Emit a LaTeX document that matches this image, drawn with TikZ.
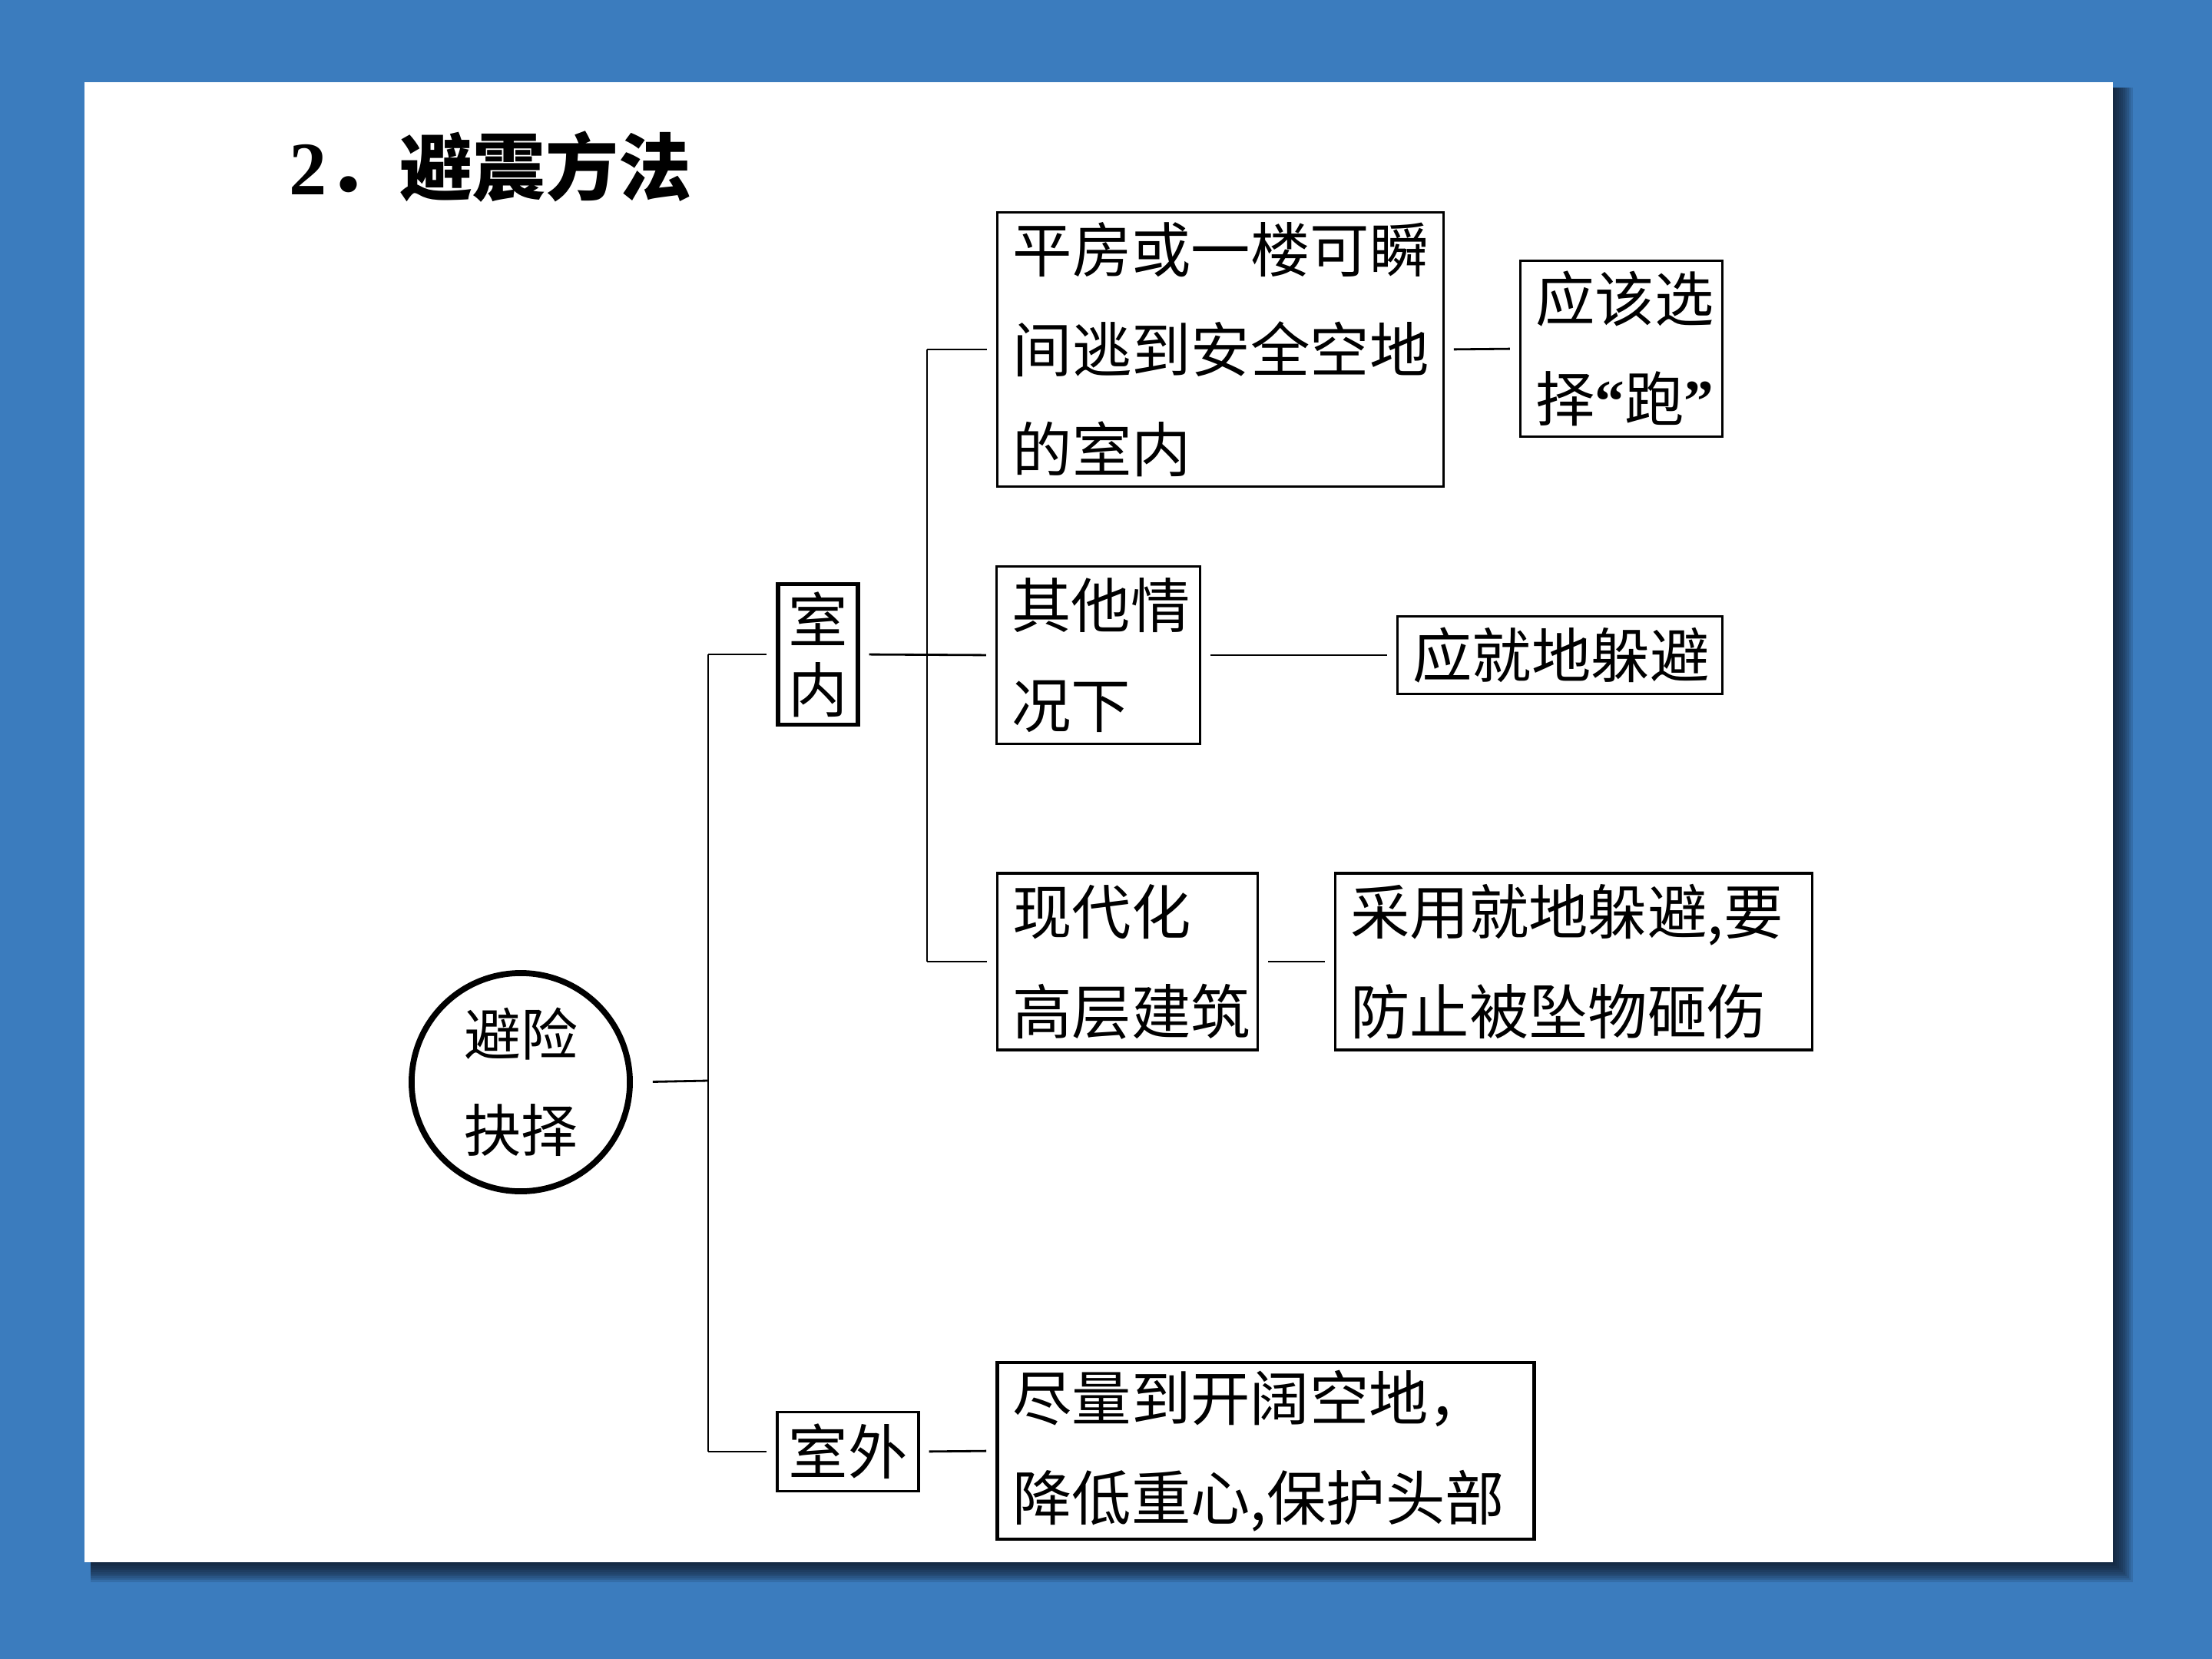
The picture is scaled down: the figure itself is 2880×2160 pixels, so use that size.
\documentclass[tikz,border=0pt]{standalone}
\usepackage{fontspec}
\setmainfont{Liberation Serif}
\newfontfamily\cjk{Noto Sans CJK SC}
\definecolor{slideblue}{RGB}{59,124,190}
\definecolor{shadowc}{RGB}{14,22,38}
\tikzset{
  link/.style={line width=0.8pt},
  gap/.style={shorten <=0.12cm, shorten >=0.12cm},
  textbox/.style={draw, line width=0.9pt, inner xsep=0.2cm, inner ysep=0pt, align=left,
    font=\cjk\fontsize{22pt}{37pt}\selectfont},
  tagbox/.style={draw, line width=0.9pt, inner sep=0pt, align=center,
    font=\cjk\fontsize{22pt}{37pt}\selectfont},
}
\begin{document}
\begin{tikzpicture}[x=0.01cm, y=-0.01cm]
  \useasboundingbox (0,0) rectangle (2880,2160);
  % slide background
  \fill[slideblue] (0,0) rectangle (2880,2160);
  \foreach \k in {1,...,10}
    \fill[shadowc, opacity=0.14] (118,114) rectangle (2751+2.6*\k, 2034+2.6*\k);
  \fill[white] (110,107) rectangle (2751,2034);

  \node[anchor=west, inner sep=0pt] (title) at (376,217)
    {\fontsize{28pt}{30pt}\selectfont\bfseries 2{\cjk\fontsize{27pt}{30pt}\selectfont\bfseries ．避震方法}};

  % root
  \node[circle, draw, line width=2.2pt, minimum size=2.84cm, inner sep=0pt, align=center,
        font=\cjk\fontsize{21pt}{35.5pt}\selectfont] (choice) at (678,1409) {避险\\抉择};

  % second level
  \node[tagbox, line width=1.5pt, minimum width=1.04cm, minimum height=1.83cm,
        font=\cjk\fontsize{22pt}{26pt}\selectfont] (indoor) at (1065,852) {室\\内};
  \node[tagbox, minimum width=1.84cm, minimum height=1.03cm] (outdoor) at (1104,1890) {室外};

  % indoor cases
  \node[textbox, text width=5.40cm, minimum height=3.57cm] (flat) at (1589,455)
    {平房或一楼可瞬\\间逃到安全空地\\的室内};
  \node[textbox, text width=2.23cm, minimum height=2.29cm] (run) at (2111,454)
    {应该选\\择{\rmfamily\bfseries “}跑{\rmfamily\bfseries ”}};
  \node[textbox, text width=2.25cm, minimum height=2.31cm] (other) at (1430,853)
    {其他情\\况下};
  \node[textbox, text width=3.83cm, minimum height=1.01cm] (hide) at (2031,853)
    {应就地躲避};
  \node[textbox, text width=2.99cm, minimum height=2.30cm] (tower) at (1468,1252)
    {现代化\\高层建筑};
  \node[textbox, text width=5.81cm, minimum height=2.30cm] (guard) at (2049,1252)
    {采用就地躲避,要\\防止被坠物砸伤};

  % outdoor case
  \node[textbox, line width=1.3pt, text width=6.59cm, minimum height=2.30cm] (open) at (1648,1889)
    {尽量到开阔空地，\\降低重心,保护头部};

  % trunks
  \coordinate (t1) at (922,1407);
  \coordinate (t2) at (1207,852);

  \draw[link, shorten <=0.26cm] (choice.east) -- (t1);
  \draw[link] (t1 |- indoor.west) -- (t1 |- outdoor.west);
  \draw[link, shorten >=0.12cm] (t1 |- indoor.west) -- (indoor.west);
  \draw[link, shorten >=0.12cm] (t1 |- outdoor.west) -- (outdoor.west);
  \draw[link, gap] (indoor.east) -- (other.west);
  \draw[link] (t2 |- flat.west) -- (t2 |- tower.west);
  \draw[link, shorten >=0.12cm] (t2 |- flat.west) -- (flat.west);
  \draw[link, shorten >=0.12cm] (t2 |- tower.west) -- (tower.west);
  \draw[link, gap] (flat.east) -- (run.west);
  \draw[link, gap] (other.east) -- (hide.west);
  \draw[link, gap] (tower.east) -- (guard.west);
  \draw[link, gap] (outdoor.east) -- (open.west);
\end{tikzpicture}
\end{document}
